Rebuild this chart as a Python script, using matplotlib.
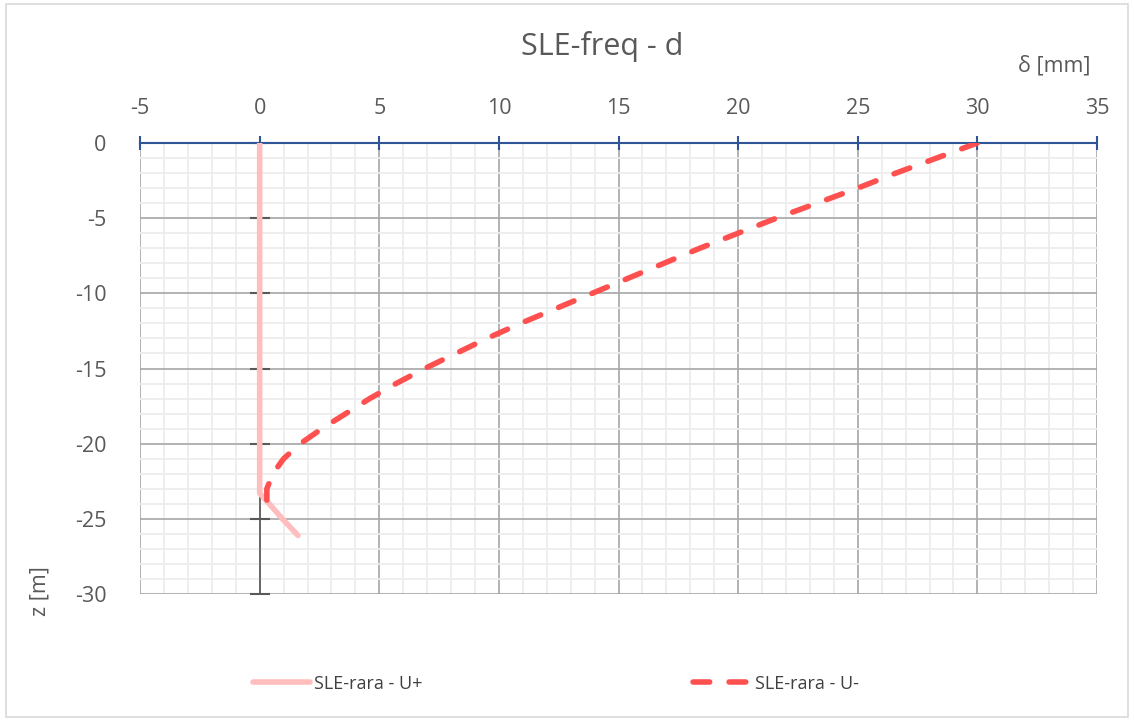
import matplotlib.pyplot as plt
import numpy as np
from matplotlib.patches import Rectangle

# SLE-rara - U+ : displacement [mm] vs depth [m]
z_up = [0, -5, -10, -15, -20, -23.3, -24, -25, -26.1]
d_up = [0, 0, 0, 0, 0, 0, 0.4, 0.95, 1.6]

# SLE-rara - U-
z_dn = [0, -1, -2, -3, -4, -5, -6, -7, -8, -9, -10, -11, -12, -13, -14,
        -15, -16, -17, -18, -19, -20, -21, -22, -23, -24.3]
d_dn = [30, 28.3, 26.6, 25.0, 23.3, 21.6, 20.0, 18.4, 16.9, 15.4, 13.9,
        12.4, 10.9, 9.5, 8.2, 6.9, 5.7, 4.6, 3.6, 2.6, 1.7, 1.0, 0.55, 0.3, 0.3]

x_ticks = np.arange(-5, 36, 5)
y_ticks = np.arange(-30, 1, 5)

plt.rcParams['font.family'] = ['Open Sans', 'DejaVu Sans']
plt.rcParams['axes.unicode_minus'] = False

fig = plt.figure(figsize=(11.34, 7.21), dpi=100)
ax = fig.add_axes([0.1235, 0.1761, 0.8439, 0.6256])

# outer chart frame
fig.patches.append(Rectangle((0.005, 0.005), 0.99, 0.99, transform=fig.transFigure,
                             fill=False, edgecolor='#D9D9D9', lw=1.2))

ax.set_xlim(-5, 35)
ax.set_ylim(-30, 0)
ax.set_xticks(x_ticks)
ax.set_yticks(y_ticks)
ax.set_xticks(np.arange(-5, 36, 1), minor=True)
ax.set_yticks(np.arange(-30, 1, 1), minor=True)
ax.grid(which='minor', color='#EDEDED', lw=1.3, zorder=0)
ax.grid(which='major', color='#A6A6A6', lw=1.2, zorder=1)
ax.set_axisbelow(True)

for s in ['left', 'right', 'bottom']:
    ax.spines[s].set_visible(False)
ax.spines['top'].set_color('#2F5597')
ax.spines['top'].set_linewidth(1.5)

ax.xaxis.tick_top()
ax.tick_params(axis='x', which='major', direction='inout', length=10, width=1.5,
               color='#2F5597', labelsize=15.5, labelcolor='#595959', pad=12)
ax.tick_params(axis='x', which='minor', length=0)
ax.tick_params(axis='y', which='both', length=0, labelsize=15.5,
               labelcolor='#595959', pad=24)

# vertical axis drawn at x = 0
ax.axvline(0, color='#595959', lw=1.2, zorder=2)
ax.plot(np.zeros(len(y_ticks)), y_ticks, ls='none', marker='_', ms=14,
        mew=1.5, color='#595959', zorder=2, clip_on=False)

ax.plot(d_up, z_up, color='#FFBDBD', lw=4, solid_capstyle='round',
        solid_joinstyle='round', zorder=3, label='SLE-rara - U+')
ax.plot(d_dn, z_dn, color='#FF5050', lw=4, ls=(0, (3, 3.5)),
        dash_capstyle='round', zorder=4, label='SLE-rara - U-')

fig.text(0.531, 0.936, 'SLE-freq - d', ha='center', va='center', fontsize=22,
         color='#595959')
fig.text(0.962, 0.908, 'δ [mm]', ha='right', va='center', fontsize=15.5,
         color='#595959')
fig.text(0.035, 0.18, 'z [m]', ha='center', va='center', rotation=90,
         fontsize=15.5, color='#595959')

leg = fig.legend(loc='center', bbox_to_anchor=(0.49, 0.052), ncol=2, frameon=False,
                 fontsize=13, handlelength=3.2, columnspacing=15, handletextpad=0.2)
for t in leg.get_texts():
    t.set_color('#404040')

fig.savefig('out.png', dpi=100)
